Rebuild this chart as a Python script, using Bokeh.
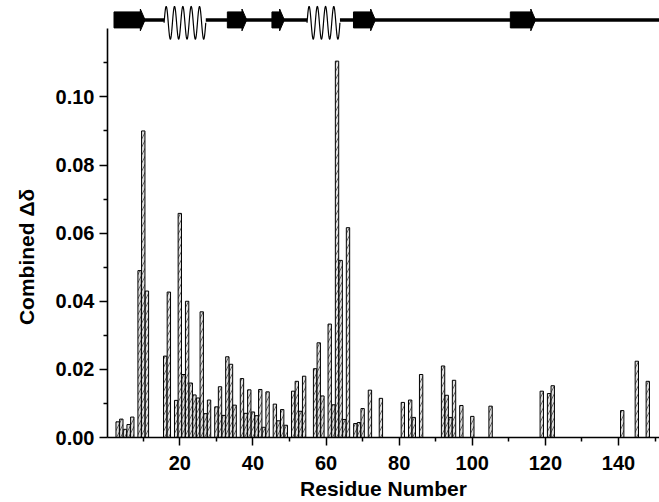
import numpy as np
from bokeh.plotting import figure
from bokeh.models import Range1d, FixedTicker, ColumnDataSource, NumeralTickFormatter
from bokeh.embed import file_html
from bokeh.resources import INLINE

# ---- data -------------------------------------------------------------
residues = [3, 4, 5, 6, 7, 9, 10, 11, 16, 17, 19, 20, 21, 22, 23, 24, 25, 26, 27, 28,
            30, 31, 32, 33, 34, 35, 37, 38, 39, 40, 41, 42, 43, 44, 46, 47, 48, 49,
            51, 52, 53, 54, 57, 58, 59, 61, 62, 63, 64, 65, 66, 68, 69, 70, 72, 75,
            81, 83, 84, 86, 92, 93, 94, 95, 97, 100, 105, 119, 121, 122, 141, 145, 148]
shifts = [0.0046, 0.0054, 0.0024, 0.0038, 0.0060, 0.049, 0.090, 0.043, 0.0239, 0.0427,
          0.0109, 0.0658, 0.0185, 0.040, 0.016, 0.0125, 0.0116, 0.0369, 0.0070, 0.011,
          0.009, 0.0149, 0.0065, 0.0237, 0.0215, 0.0095, 0.0173, 0.0071, 0.014, 0.0075,
          0.0064, 0.0141, 0.003, 0.0134, 0.0098, 0.0049, 0.0082, 0.0036,
          0.0136, 0.0165, 0.0077, 0.018, 0.0202, 0.0278, 0.0122, 0.0333, 0.0096, 0.1105,
          0.052, 0.0053, 0.0616, 0.0041, 0.0044, 0.0085, 0.0139, 0.0115,
          0.0103, 0.011, 0.0059, 0.0185, 0.021, 0.0124, 0.0059, 0.0168, 0.0094, 0.0062,
          0.0092, 0.0136, 0.0129, 0.0152, 0.0079, 0.0224, 0.0165]

x_ticks = [20, 40, 60, 80, 100, 120, 140]
x_minor = [10, 30, 50, 70, 90, 110, 130, 150]
y_ticks = [0.00, 0.02, 0.04, 0.06, 0.08, 0.10]
y_minor = [0.01, 0.03, 0.05, 0.07, 0.09, 0.11]

# secondary structure (residue numbers)
strand_start = [2.0, 33.0, 45.2, 67.5, 110.4]
strand_end = [10.5, 38.3, 48.6, 73.5, 117.3]
helix_start = [15.7, 54.8]
helix_end = [27.1, 63.8]
helix_turns = [5, 4]
chain_start = 2.0
chain_end = 152.0

# ---- figure -----------------------------------------------------------
FONT = "Liberation Sans"
NB = "\u00a0"
p = figure(width=659, height=502, output_backend="svg", toolbar_location=None,
           title=None, x_range=Range1d(0.22, 151.2), y_range=Range1d(0, 0.1283),
           min_border_left=107, min_border_right=0, min_border_top=0, min_border_bottom=65)
p.grid.visible = False
p.outline_line_color = None
p.background_fill_color = "white"

src = ColumnDataSource(dict(res=residues, val=shifts))
p.vbar(x="res", top="val", bottom=0, width=0.92, source=src,
       fill_color="#e0e0e0", line_color="black", line_width=1,
       hatch_pattern="/", hatch_color="#444444", hatch_scale=8, hatch_weight=0.8)

# secondary structure diagram above the plot
yc = 0.1226
body_h = 0.00235
head_h = 0.0032
head_len = 1.3
seg_x0 = [chain_start] + list(helix_end)
seg_x1 = list(helix_start) + [chain_end]
p.segment(x0=seg_x0, y0=[yc] * len(seg_x0), x1=seg_x1, y1=[yc] * len(seg_x1),
          line_color="black", line_width=3.5)
for hs, he, nt in zip(helix_start, helix_end, helix_turns):
    t = np.linspace(0, 1, 400)
    hx = hs + (he - hs) * t
    hy = 0.12175 + 0.0048 * np.sin(2 * np.pi * nt * t)
    p.line(hx, hy, line_color="black", line_width=1.2)
p.quad(left=strand_start, right=[e - head_len for e in strand_end],
       bottom=[yc - body_h] * len(strand_start), top=[yc + body_h] * len(strand_start),
       fill_color="black", line_color="black")
p.patches(xs=[[e - head_len, e, e - head_len] for e in strand_end],
          ys=[[yc + head_h, yc, yc - head_h] for _ in strand_end],
          fill_color="black", line_color="black")

# axes
for ax in (p.xaxis[0], p.yaxis[0]):
    ax.axis_line_width = 1.6
    ax.major_tick_line_width = 1.5
    ax.minor_tick_line_width = 1.5
    ax.major_tick_in = 0
    ax.major_tick_out = 8
    ax.minor_tick_in = 0
    ax.minor_tick_out = 4
    ax.major_label_text_font = FONT
    ax.major_label_text_font_style = "bold"
    ax.major_label_text_font_size = "20px"
    ax.major_label_text_color = "black"
    ax.axis_line_color = "black"
    ax.major_tick_line_color = "black"
    ax.minor_tick_line_color = "black"
    ax.axis_label_text_font = FONT
    ax.axis_label_text_font_style = "bold"
    ax.axis_label_text_font_size = "21px"
    ax.axis_label_text_color = "black"

p.xaxis.ticker = FixedTicker(ticks=x_ticks, minor_ticks=x_minor)
p.yaxis.ticker = FixedTicker(ticks=y_ticks, minor_ticks=y_minor)
p.yaxis.formatter = NumeralTickFormatter(format="0.00")
p.yaxis.bounds = (0, 0.12)
p.xaxis.major_label_standoff = 10
p.yaxis.major_label_standoff = 5

p.xaxis.axis_label = "Residue Number"
p.xaxis.axis_label_standoff = 4
p.yaxis.axis_label = "Combined Δδ" + NB * 13
p.yaxis.axis_label_standoff = 15

open("out.html", "w").write(file_html(p, INLINE))
